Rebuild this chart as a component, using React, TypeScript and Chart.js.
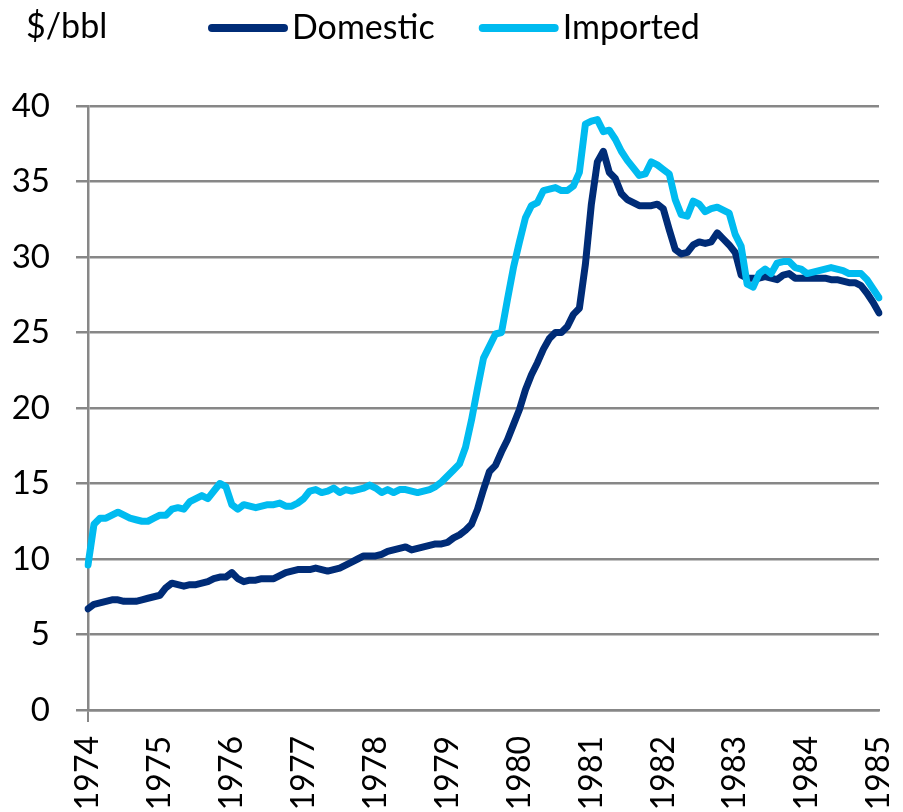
import { useEffect, useRef } from "react";
import { Chart, registerables } from "chart.js";

Chart.register(...registerables);

const FONT = "Lato, 'Liberation Sans', sans-serif";

const unitLabel = "$/bbl";
const years = ["1974", "1975", "1976", "1977", "1978", "1979", "1980", "1981", "1982", "1983", "1984", "1985"];
const monthNumbers = ["01", "02", "03", "04", "05", "06", "07", "08", "09", "10", "11", "12"];

// Monthly categories Jan 1974 .. Jan 1985
const categories: string[] = [];
years.forEach((y, yi) => {
  monthNumbers.forEach((m, mi) => {
    if (yi === years.length - 1 && mi > 0) return;
    categories.push(`${y}-${m}`);
  });
});

const domestic = [
  // 1974
  6.7, 7.0, 7.1, 7.2, 7.3, 7.3, 7.2, 7.2, 7.2, 7.3, 7.4, 7.5,
  // 1975
  7.6, 8.1, 8.4, 8.3, 8.2, 8.3, 8.3, 8.4, 8.5, 8.7, 8.8, 8.8,
  // 1976
  9.1, 8.7, 8.5, 8.6, 8.6, 8.7, 8.7, 8.7, 8.9, 9.1, 9.2, 9.3,
  // 1977
  9.3, 9.3, 9.4, 9.3, 9.2, 9.3, 9.4, 9.6, 9.8, 10.0, 10.2, 10.2,
  // 1978
  10.2, 10.3, 10.5, 10.6, 10.7, 10.8, 10.6, 10.7, 10.8, 10.9, 11.0, 11.0,
  // 1979
  11.1, 11.4, 11.6, 11.9, 12.3, 13.3, 14.6, 15.8, 16.2, 17.1, 17.9, 18.9,
  // 1980
  19.9, 21.2, 22.2, 23.0, 23.9, 24.6, 25.0, 25.0, 25.4, 26.2, 26.6, 29.5,
  // 1981
  33.5, 36.3, 37.0, 35.6, 35.2, 34.2, 33.8, 33.6, 33.4, 33.4, 33.4, 33.5,
  // 1982
  33.2, 31.8, 30.5, 30.2, 30.3, 30.8, 31.0, 30.9, 31.0, 31.6, 31.2, 30.8,
  // 1983
  30.3, 28.8, 28.6, 28.6, 28.6, 28.7, 28.6, 28.5, 28.8, 28.9, 28.6, 28.6,
  // 1984
  28.6, 28.6, 28.6, 28.6, 28.5, 28.5, 28.4, 28.3, 28.3, 28.1, 27.6, 27.0,
  // 1985
  26.3,
];

const imported = [
  // 1974
  9.6, 12.3, 12.7, 12.7, 12.9, 13.1, 12.9, 12.7, 12.6, 12.5, 12.5, 12.7,
  // 1975
  12.9, 12.9, 13.3, 13.4, 13.3, 13.8, 14.0, 14.2, 14.0, 14.5, 15.0, 14.8,
  // 1976
  13.6, 13.3, 13.6, 13.5, 13.4, 13.5, 13.6, 13.6, 13.7, 13.5, 13.5, 13.7,
  // 1977
  14.0, 14.5, 14.6, 14.4, 14.5, 14.7, 14.4, 14.6, 14.5, 14.6, 14.7, 14.9,
  // 1978
  14.7, 14.4, 14.6, 14.4, 14.6, 14.6, 14.5, 14.4, 14.5, 14.6, 14.8, 15.1,
  // 1979
  15.5, 15.9, 16.3, 17.4, 19.2, 21.3, 23.3, 24.1, 24.9, 25.0, 27.2, 29.3,
  // 1980
  31.0, 32.6, 33.4, 33.6, 34.4, 34.5, 34.6, 34.4, 34.4, 34.7, 35.6, 38.8,
  // 1981
  39.0, 39.1, 38.3, 38.4, 37.8, 37.0, 36.4, 35.9, 35.4, 35.5, 36.3, 36.1,
  // 1982
  35.8, 35.5, 33.8, 32.8, 32.7, 33.7, 33.5, 33.0, 33.2, 33.3, 33.1, 32.9,
  // 1983
  31.5, 30.7, 28.2, 28.0, 28.9, 29.2, 28.9, 29.6, 29.7, 29.7, 29.3, 29.2,
  // 1984
  28.9, 29.0, 29.1, 29.2, 29.3, 29.2, 29.1, 28.9, 28.9, 28.9, 28.5, 27.9,
  // 1985
  27.3,
];

const seriesNames = ["Domestic", "Imported"];
const seriesColors = ["#002c77", "#00bbf0"];

const GRID = "#878787";

const isYearTick = (index: number) => {
  const c = categories[index];
  return !!c && c.endsWith("-01");
};

const headerPlugin = {
  id: "header",
  afterDraw(chart: any) {
    const ctx = chart.ctx as CanvasRenderingContext2D;
    ctx.save();
    ctx.fillStyle = "#000";
    ctx.textBaseline = "middle";
    ctx.textAlign = "left";
    ctx.font = `34px ${FONT}`;
    ctx.fillText(unitLabel, 26, 27);
    let x = 208;
    const y = 28;
    chart.data.datasets.forEach((ds: any) => {
      ctx.strokeStyle = ds.borderColor;
      ctx.lineWidth = 8;
      ctx.lineCap = "round";
      ctx.beginPath();
      ctx.moveTo(x + 4, y);
      ctx.lineTo(x + 76, y);
      ctx.stroke();
      x += 84;
      ctx.fillText(ds.label, x, y);
      x += ctx.measureText(ds.label).width + 44;
    });
    ctx.restore();
  },
};

export default function App() {
  const canvasRef = useRef<HTMLCanvasElement | null>(null);

  useEffect(() => {
    if (!canvasRef.current) return;
    const chart = new Chart(canvasRef.current, {
      type: "line",
      data: {
        labels: categories,
        datasets: [
          {
            label: seriesNames[0],
            data: domestic,
            borderColor: seriesColors[0],
            backgroundColor: seriesColors[0],
            borderWidth: 7,
            pointRadius: 0,
            tension: 0,
            borderJoinStyle: "round",
            borderCapStyle: "round",
            order: 1,
          },
          {
            label: seriesNames[1],
            data: imported,
            borderColor: seriesColors[1],
            backgroundColor: seriesColors[1],
            borderWidth: 7,
            pointRadius: 0,
            tension: 0,
            borderJoinStyle: "round",
            borderCapStyle: "round",
            order: 0,
          },
        ],
      },
      options: {
        animation: false,
        responsive: true,
        maintainAspectRatio: false,
        layout: { padding: { top: 106, right: 24, bottom: 0, left: 0 } },
        plugins: {
          legend: { display: false },
          tooltip: { enabled: false },
        },
        scales: {
          x: {
            type: "category",
            offset: false,
            grid: {
              display: true,
              drawOnChartArea: false,
              drawTicks: true,
              tickLength: 12,
              color: (c: any) => (isYearTick(c.index) ? GRID : "rgba(0,0,0,0)"),
              lineWidth: (c: any) => (isYearTick(c.index) ? 2 : 0),
              tickColor: (c: any) => (isYearTick(c.index) ? GRID : "rgba(0,0,0,0)"),
              tickWidth: (c: any) => (isYearTick(c.index) ? 2 : 0),
            },
            border: { display: true, color: GRID, width: 2.5 },
            ticks: {
              autoSkip: false,
              maxRotation: 90,
              minRotation: 90,
              padding: 14,
              color: "#000",
              font: { family: FONT, size: 32 },
              callback: (_v: any, index: number) => (isYearTick(index) ? categories[index].slice(0, 4) : null),
            },
            afterFit: (scale: any) => {
              scale.height = 102;
              scale.paddingLeft = 0;
              scale.paddingRight = 0;
            },
          },
          y: {
            min: 0,
            max: 40,
            grid: {
              color: GRID,
              lineWidth: 2.5,
              tickLength: 12,
              drawTicks: true,
            },
            border: { display: true, color: GRID, width: 2.5 },
            ticks: {
              stepSize: 5,
              padding: 26,
              color: "#000",
              font: { family: FONT, size: 33 },
            },
            afterFit: (scale: any) => {
              scale.width = 88;
            },
          },
        },
      },
      plugins: [headerPlugin],
    });
    return () => chart.destroy();
  }, []);

  return (
    <div style={{ position: "absolute", left: 0, top: 0, width: 903, height: 812, background: "#fff" }}>
      <canvas ref={canvasRef} />
    </div>
  );
}
